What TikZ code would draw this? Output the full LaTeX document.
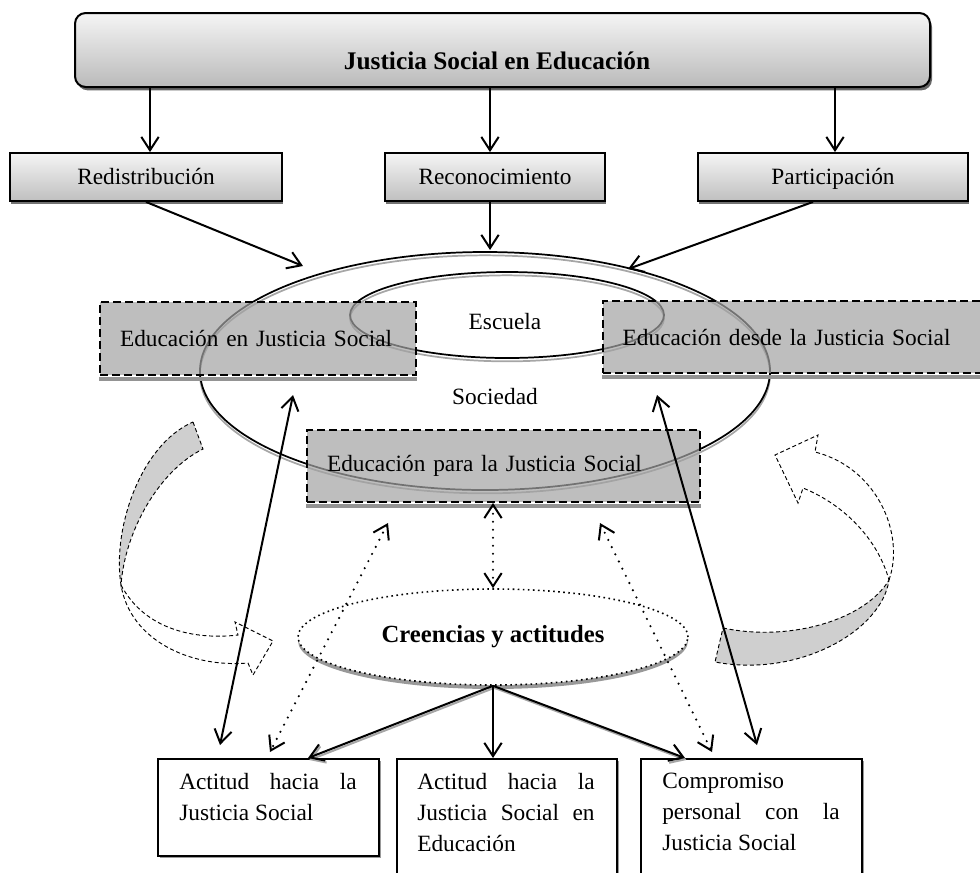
\documentclass[tikz,border=0pt]{standalone}
\usepackage{fontspec}
\setmainfont{Liberation Serif}
\usetikzlibrary{arrows.meta,shapes.geometric,shadows}
\tikzset{
  txt/.style={font=\fontsize{17.5}{23.3}\selectfont},
  topbox/.style={draw, line width=1.5pt, rounded corners=8pt, top color=black!4, bottom color=black!27,
    drop shadow={shadow xshift=1.5pt, shadow yshift=-2.5pt, fill=black!60, opacity=1}},
  midbox/.style={draw, line width=1.4pt, top color=black!4, bottom color=black!25,
    drop shadow={shadow xshift=1pt, shadow yshift=-2.5pt, fill=black!55, opacity=1},
    minimum height=36pt, text height=13.5pt, text depth=2.5pt, txt},
  dbox/.style={draw, line width=1.4pt, dash pattern=on 6pt off 3pt, fill=black!36, fill opacity=0.7,
    text opacity=1, draw opacity=1, txt, align=left, inner xsep=15pt},
  bbox/.style={draw, line width=1.2pt, fill=white,
    drop shadow={shadow xshift=1.5pt, shadow yshift=-2pt, fill=black!40, opacity=1}, anchor=north west, inner sep=0pt},
  btxt/.style={txt, text width=133pt, align=justify, inner sep=0pt, anchor=north west},
  arr/.style={line width=1.5pt, -{Straight Barb[length=10pt,width=13pt]}},
  darr/.style={line width=1.5pt, {Straight Barb[length=10pt,width=13pt]}-{Straight Barb[length=10pt,width=13pt]}},
  dotarr/.style={line width=1.8pt, line cap=round, dash pattern=on 0pt off 6pt,
    {Straight Barb[length=10pt,width=13pt,line width=1.5pt]}-{Straight Barb[length=10pt,width=13pt,line width=1.5pt]}},
  cband/.style={fill=black!19, draw, line width=0.7pt, dash pattern=on 3pt off 2pt},
  cline/.style={draw, line width=0.7pt, dash pattern=on 3pt off 2pt},
  ellshadow/.style={preaction={draw=black!35, line width=1.3pt, transform canvas={yshift=-2.5pt}}},
  arrshadow/.style={preaction={draw=black!35, line width=1.5pt, transform canvas={xshift=1pt,yshift=-1.5pt}}},
}
\begin{document}
\begin{tikzpicture}[x=0.75pt,y=-0.75pt]
\useasboundingbox (0,0) rectangle (980,872);
\clip (0,0) rectangle (980,872);

% top level
\node[topbox, minimum width=641.25pt, minimum height=55.5pt] (top) at (502.5,50) {};
\node[font=\bfseries\fontsize{19}{23}\selectfont] (topl) at (497,61) {Justicia Social en Educación};
\node[midbox, minimum width=204pt] (r1) at (146,177) {Redistribución};
\node[midbox, minimum width=165pt] (r2) at (495,177) {Reconocimiento};
\node[midbox, minimum width=202.5pt] (r3) at (833,177) {Participación};
\draw[arr] (top.south -| 150,0) -- (r1.north -| 150,0);
\draw[arr] (top.south -| 490,0) -- (r2.north -| 490,0);
\draw[arr] (top.south -| 835,0) -- (r3.north -| 835,0);

% ellipses
\node[ellipse, draw, line width=1.3pt, minimum width=427.5pt, minimum height=178.5pt, ellshadow] (soc) at (485,371) {};
\node[ellipse, draw, line width=1.3pt, minimum width=235.5pt, minimum height=64.5pt, ellshadow] (esc) at (507,315) {};
\node[txt] (escl) at (505,322) {Escuela};
\node[txt] (socl) at (495,397) {Sociedad};

\coordinate (p1) at (303,266);
\coordinate (p2) at (490,250);
\coordinate (p3) at (628,269);
\draw[arr] (r1.south) -- (p1);
\draw[arr] (r2.south -| 490,0) -- (p2);
\draw[arr] (r3.south -| 813,0) -- (p3);

% dashed boxes
\node[dbox, minimum width=237pt, minimum height=54.75pt, text width=207pt] (e1) at (258,338.5) {Educación en Justicia Social};
\node[dbox, minimum width=290pt, minimum height=54pt, text width=260pt] (e2) at (796,337) {Educación desde la Justicia Social};
\node[dbox, minimum width=294.75pt, minimum height=54pt, text width=264.75pt] (e3) at (503.5,466) {Educación para la Justicia Social};
\fill[black!42] ([yshift=-0.7pt]e1.south west) rectangle ([yshift=-3.5pt]e1.south east);
\fill[black!42] ([yshift=-0.7pt]e2.south west) rectangle ([yshift=-3.5pt]e2.south east);
\fill[black!42] ([yshift=-0.7pt]e3.south west) rectangle ([yshift=-3.5pt]e3.south east);

% curved arrows
\filldraw[cband] (193,422) -- (203,449) .. controls (160,470) and (125,530) .. (121,585)
  .. controls (112,530) and (140,445) .. cycle;
\draw[cline] (121,585) .. controls (145,630) and (195,640) .. (238,635) -- (235,622) -- (273,641)
  -- (253,675) -- (248,663) .. controls (190,668) and (130,640) .. cycle;
\filldraw[cband] (723,628) .. controls (790,642) and (865,620) .. (889,580)
  .. controls (882,630) and (800,678) .. (715,662) -- cycle;
\draw[cline] (889,580) .. controls (905,535) and (878,468) .. (815,452) -- (818,435) -- (775,455)
  -- (798,503) -- (803,488) .. controls (845,505) and (878,540) .. cycle;

% beliefs ellipse
\node[ellipse, minimum width=292.5pt, minimum height=72pt, fill=white, draw, line width=1.2pt,
  dash pattern=on 1.2pt off 2.6pt,
  drop shadow={shadow xshift=0pt, shadow yshift=-3pt, fill=black!40, opacity=1},
  font=\bfseries\fontsize{18.5}{22}\selectfont] (cre) at (493,637) {Creencias y actitudes};

% bottom boxes
\node[bbox, minimum width=165.75pt, minimum height=72.75pt] (b1) at (157,758) {};
\node[bbox, minimum width=165pt, minimum height=97.5pt] (b2) at (396,758) {};
\node[bbox, minimum width=165.75pt, minimum height=97.5pt] (b3) at (640,758) {};
\node[btxt] (t1) at (179,773) {Actitud hacia la\linebreak Justicia Social};
\node[btxt] (t2) at (417,773) {Actitud hacia la\linebreak Justicia Social en\linebreak Educación};
\node[btxt] (t3) at (662,773) {Compromiso\newline personal con la\linebreak Justicia Social};

% arrows from beliefs
\draw[arr, arrshadow] (cre.south) -- (b1.north west -| 308,0);
\draw[arr] (cre.south) -- (b2.north -| 493,0);
\draw[arr, arrshadow] (cre.south) -- (b3.north west -| 685,0);

% dotted arrows
\coordinate (d1a) at (388,523); \coordinate (d1b) at (270,752);
\coordinate (d2a) at (600,523); \coordinate (d2b) at (712,752);
\draw[dotarr] (d1a) -- (d1b);
\draw[dotarr] (d2a) -- (d2b);
\draw[dotarr] (e3.south -| 493,0) -- (cre.north -| 493,0);

% long arrows
\coordinate (l1a) at (293,395); \coordinate (l1b) at (220,745);
\coordinate (l2a) at (657,395); \coordinate (l2b) at (757,745);
\draw[darr] (l1a) -- (l1b);
\draw[darr] (l2a) -- (l2b);
\end{tikzpicture}
\end{document}
